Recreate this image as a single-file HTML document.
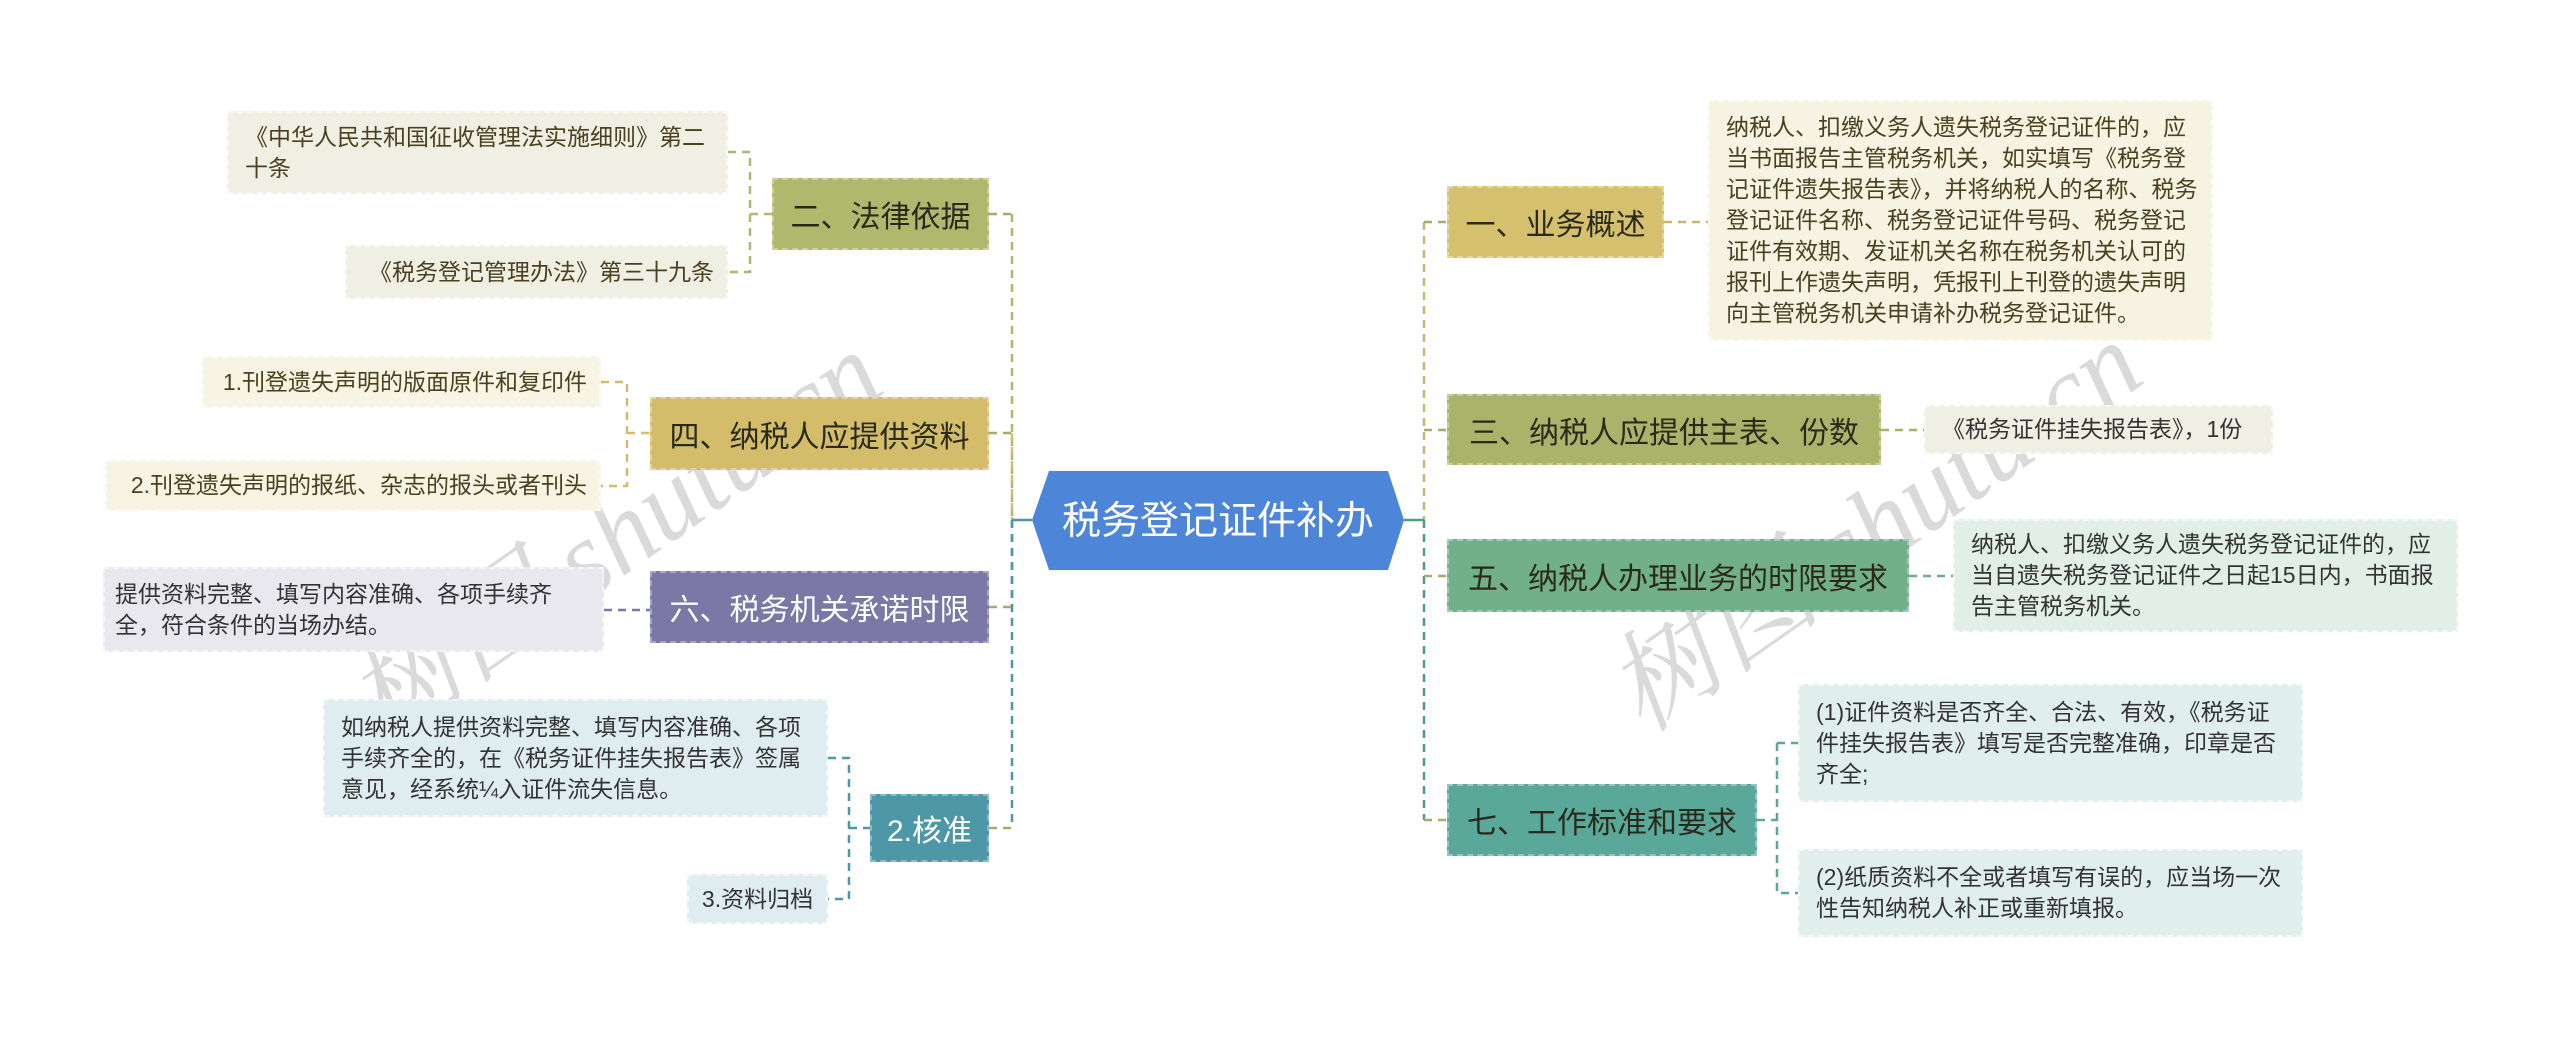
<!DOCTYPE html>
<html><head><meta charset="utf-8"><style>
body{margin:0;width:2560px;height:1041px;background:#fff;position:relative;overflow:hidden;font-family:"Liberation Sans","Noto Sans CJK SC",sans-serif}
.n{position:absolute;box-sizing:border-box;display:flex;align-items:center;justify-content:center;font-size:30px;color:#2a2a1a;border:2px dashed rgba(255,255,255,.35);white-space:nowrap}
.l{position:absolute;box-sizing:border-box;display:flex;align-items:center;padding:0 12px 0 16px;font-size:23px;line-height:31px;color:#4a4020;border:2px dashed rgba(255,255,255,.6)}
svg{position:absolute;left:0;top:0}
.wm{position:absolute;font-size:110px;color:rgba(150,150,150,.35);transform:rotate(-35deg);font-family:"Liberation Serif","Noto Serif CJK SC",serif;font-style:italic;white-space:nowrap}
</style></head><body>
<svg width="2560" height="1041" fill="none" stroke-width="2.5" stroke-dasharray="8,6">
<path d="M1012 214V520" stroke="#b0b86e"/>
<path d="M1012 433V520" stroke="#d4bd6a"/>
<path d="M1012 520V607" stroke="#7b78a6"/>
<path d="M1012 520V828" stroke="#4e97a6"/>
<path d="M1012 520H1032" stroke="#4e97a6" stroke-dasharray="none"/>
<path d="M989 214H1012M989 433H1012M989 607H1012M989 828H1012" stroke="#aaa870"/>
<path d="M728 152H750V272H728M750 214H772" stroke="#b0b86e"/>
<path d="M601 382H627V486H601M627 433H650" stroke="#d4bd6a"/>
<path d="M604 610H650" stroke="#7b78a6"/>
<path d="M828 758H849V899H828M849 828H870" stroke="#4e97a6"/>
<path d="M1424 222V520" stroke="#c9b86a"/>
<path d="M1424 520V820" stroke="#4e9a8e"/>
<path d="M1404 520H1424" stroke="#4e9a8e" stroke-dasharray="none"/>
<path d="M1424 222H1447M1424 430H1447M1424 576H1447M1424 820H1447" stroke="#aaa870"/>
<path d="M1664 222H1708" stroke="#c9b86a"/>
<path d="M1881 430H1924" stroke="#a4b56a"/>
<path d="M1909 576H1953" stroke="#6fb08a"/>
<path d="M1757 820H1777M1777 743H1798M1777 743V893H1798" stroke="#5aa89a"/>
</svg>
<div class="wm" style="left:300px;top:450px">树图 shutu.cn</div>
<div class="wm" style="left:1560px;top:440px">树图 shutu.cn</div>
<svg width="2560" height="1041"><polygon points="1032,520 1049,471 1388,471 1404,520 1388,570 1049,570" fill="#4d86d8"/>
<text x="1218" y="534" font-size="39" fill="#fff" text-anchor="middle" font-family="Liberation Sans,Noto Sans CJK SC,sans-serif">税务登记证件补办</text></svg>

<div class="n" style="left:772px;top:178px;width:217px;height:72px;background:#b0b86e">二、法律依据</div>
<div class="l" style="left:227px;top:111px;width:501px;height:83px;background:#f0efe3">《中华人民共和国征收管理法实施细则》第二十条</div>
<div class="l" style="left:345px;top:245px;width:383px;height:54px;background:#f0efe3;justify-content:flex-end;white-space:nowrap">《税务登记管理办法》第三十九条</div>
<div class="n" style="left:650px;top:397px;width:339px;height:73px;background:#d4bd6a">四、纳税人应提供资料</div>
<div class="l" style="left:202px;top:356px;width:399px;height:52px;background:#f7f4e4;justify-content:flex-end;white-space:nowrap">1.刊登遗失声明的版面原件和复印件</div>
<div class="l" style="left:105px;top:460px;width:496px;height:51px;background:#f7f4e4;justify-content:flex-end;white-space:nowrap">2.刊登遗失声明的报纸、杂志的报头或者刊头</div>
<div class="n" style="left:650px;top:571px;width:339px;height:72px;background:#7b78a6;color:#fff">六、税务机关承诺时限</div>
<div class="l" style="left:103px;top:567px;width:501px;height:85px;background:#e8e8ee;color:#333;padding:0 6px 0 10px">提供资料完整、填写内容准确、各项手续齐全，符合条件的当场办结。</div>
<div class="n" style="left:870px;top:794px;width:119px;height:68px;background:#4e97a6;color:#fff">2.核准</div>
<div class="l" style="left:323px;top:699px;width:505px;height:118px;background:#dfedf0;color:#333">如纳税人提供资料完整、填写内容准确、各项手续齐全的，在《税务证件挂失报告表》签属意见，经系统¼入证件流失信息。</div>
<div class="l" style="left:687px;top:874px;width:141px;height:50px;background:#dfedf0;color:#333;white-space:nowrap;padding:0 10px;justify-content:center">3.资料归档</div>

<div class="n" style="left:1447px;top:186px;width:217px;height:72px;background:#d5c06e">一、业务概述</div>
<div class="l" style="left:1708px;top:100px;width:505px;height:241px;background:#f6f3e3">纳税人、扣缴义务人遗失税务登记证件的，应当书面报告主管税务机关，如实填写《税务登记证件遗失报告表》，并将纳税人的名称、税务登记证件名称、税务登记证件号码、税务登记证件有效期、发证机关名称在税务机关认可的报刊上作遗失声明，凭报刊上刊登的遗失声明向主管税务机关申请补办税务登记证件。</div>
<div class="n" style="left:1447px;top:394px;width:434px;height:71px;background:#a9b46a">三、纳税人应提供主表、份数</div>
<div class="l" style="left:1924px;top:405px;width:349px;height:49px;background:#f0efe3;color:#333;white-space:nowrap">《税务证件挂失报告表》，1份</div>
<div class="n" style="left:1447px;top:539px;width:462px;height:73px;background:#72b08c">五、纳税人办理业务的时限要求</div>
<div class="l" style="left:1953px;top:519px;width:505px;height:113px;background:#e2efe8;color:#333">纳税人、扣缴义务人遗失税务登记证件的，应当自遗失税务登记证件之日起15日内，书面报告主管税务机关。</div>
<div class="n" style="left:1447px;top:784px;width:310px;height:72px;background:#5aa89a">七、工作标准和要求</div>
<div class="l" style="left:1798px;top:684px;width:505px;height:118px;background:#e0eeec;color:#333">(1)证件资料是否齐全、合法、有效，《税务证件挂失报告表》填写是否完整准确，印章是否齐全;</div>
<div class="l" style="left:1798px;top:849px;width:505px;height:88px;background:#e0eeec;color:#333">(2)纸质资料不全或者填写有误的，应当场一次性告知纳税人补正或重新填报。</div>
</body></html>
